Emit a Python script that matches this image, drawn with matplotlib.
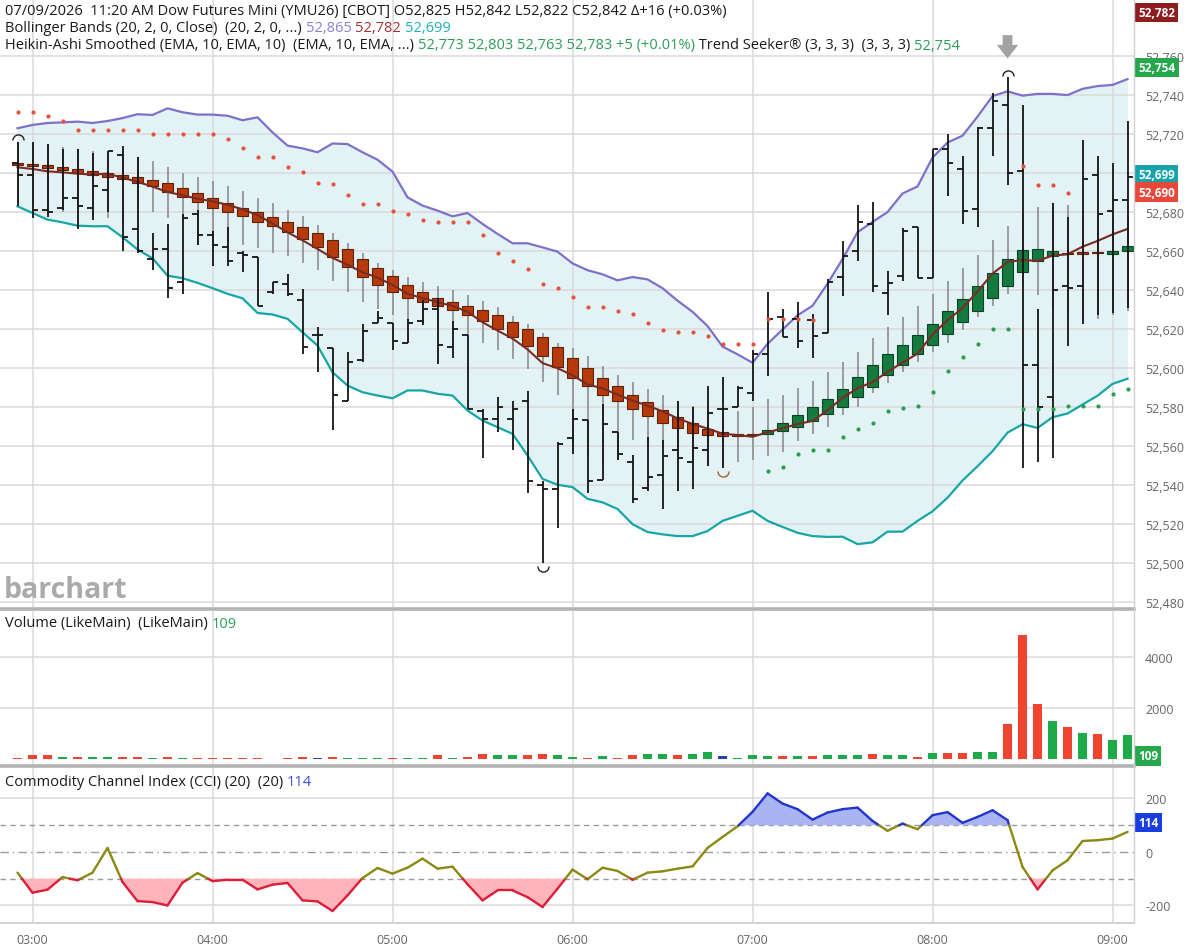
import numpy as np
import pandas as pd
import matplotlib
matplotlib.use('Agg')
import matplotlib.pyplot as plt
from matplotlib.path import Path
from matplotlib.lines import Line2D
from matplotlib.collections import LineCollection

FONT = ['Open Sans', 'DejaVu Sans']
plt.rcParams['font.family'] = FONT

W, H = 1188, 953

# ---------------- data ----------------
bar_times = pd.date_range('2026-07-09 02:55', periods=75, freq='5min')

opens = [52705, 52699, 52681, 52682, 52687, 52682, 52691, 52709, 52671, 52656,
         52661, 52644, 52679, 52668, 52662, 52659, 52657, 52639, 52643, 52635,
         52617, 52610, 52583, 52604, 52623, 52623, 52613, 52624, 52630, 52611,
         52617, 52578, 52574, 52574, 52583, 52540, 52538, 52564, 52573.5, 52542.5,
         52567, 52552, 52538.5, 52545, 52558, 52552, 52558, 52579, 52580, 52587,
         52607, 52626, 52625, 52624.4, 52618, 52646.6, 52660, 52674, 52638.5, 52647,
         52672, 52646, 52712, 52702, 52681.7, 52722.8, 52734.7, 52700.8, 52601.4, 52585,
         52642, 52642, 52699, 52680.6, 52685.8]
highs = [52716, 52716, 52714.5, 52712, 52712, 52710, 52711, 52713.5, 52708, 52669,
         52674, 52679, 52681, 52670, 52672, 52660, 52657, 52644, 52648, 52640.5,
         52621, 52610, 52608, 52622.6, 52629, 52623, 52625, 52635, 52636, 52624,
         52617, 52579, 52585, 52583, 52588, 52542, 52562, 52579, 52573.5, 52581.6,
         52567, 52555.5, 52564.6, 52563, 52583, 52580, 52590.6, 52595.5, 52591, 52609,
         52639, 52630, 52633.6, 52627.6, 52645.8, 52665, 52683.6, 52685, 52649.5, 52671.5,
         52672, 52712.3, 52719.7, 52708.7, 52723.3, 52741, 52749, 52734.7, 52630, 52684.5,
         52677.5, 52716.6, 52708.7, 52705, 52726.5]
lows = [52683, 52677, 52677.5, 52681, 52671, 52676, 52680, 52660, 52659, 52650,
        52636, 52638, 52663, 52652, 52652, 52649, 52632, 52638, 52637, 52607,
        52598, 52568, 52583, 52603, 52623, 52609, 52613, 52622, 52602, 52605,
        52579, 52554, 52567, 52558, 52536, 52500, 52518, 52556, 52536, 52542.5,
        52553, 52531, 52537, 52528, 52537, 52538, 52550, 52548.6, 52580, 52583,
        52596, 52616, 52610, 52605, 52618, 52637, 52654.6, 52639, 52627, 52644.5,
        52646, 52646, 52688, 52674, 52672, 52708.7, 52693.6, 52549, 52552, 52554,
        52611.5, 52622.5, 52627, 52628, 52630.7]
closes = [52699, 52681, 52680, 52687, 52683, 52693, 52711, 52667, 52660, 52661,
          52641, 52677, 52668, 52663, 52655, 52658, 52632, 52644, 52638, 52611,
          52617, 52586, 52603, 52619, 52625.5, 52614, 52623, 52630, 52612, 52620,
          52579, 52574, 52580, 52579, 52542, 52538, 52561, 52574, 52542, 52571.5,
          52556, 52533, 52544, 52555, 52554, 52559, 52577, 52579, 52590, 52607,
          52625, 52616, 52614, 52616.6, 52644, 52657.5, 52675, 52642, 52643.6, 52670,
          52646, 52712, 52705, 52680.6, 52722.8, 52737, 52700, 52601.4, 52580, 52640,
          52641, 52697, 52679, 52685.8, 52698]

# Heikin-Ashi Smoothed (EMA 10) candles
ha_open = [52704.8, 52704.0, 52704.0, 52703.0, 52702.0, 52701.0, 52700.0, 52699.0, 52698.0, 52696.5,
           52695.0, 52692.0, 52689.7, 52687.0, 52684.5, 52682.0, 52679.8, 52677.4, 52674.6, 52672.0,
           52669.0, 52665.5, 52661.0, 52656.0, 52651.0, 52647.0, 52642.7, 52639.0, 52636.0, 52634.0,
           52631.6, 52629.8, 52627.0, 52623.5, 52620.0, 52615.8, 52611.0, 52605.0, 52599.8, 52595.0,
           52590.6, 52586.4, 52582.4, 52578.6, 52575.0, 52572.0, 52568.9, 52567.0, 52566.0, 52566.0,
           52566.0, 52567.7, 52570.0, 52573.0, 52576.7, 52580.0, 52585.0, 52590.4, 52596.3, 52601.4,
           52607.0, 52612.0, 52617.6, 52623.4, 52629.3, 52636.0, 52642.0, 52649.0, 52654.6, 52657.3,
           52658.5, 52658.8, 52658.8, 52658.6, 52659.7]
ha_close = [52704.2, 52703.4, 52702.6, 52701.6, 52700.0, 52699.0, 52698.0, 52697.0, 52695.0, 52693.0,
            52690.0, 52687.5, 52685.0, 52682.0, 52680.0, 52677.7, 52675.0, 52672.6, 52669.5, 52666.0,
            52662.0, 52657.0, 52651.6, 52646.5, 52642.5, 52638.8, 52635.7, 52633.7, 52631.6, 52629.6,
            52627.0, 52623.9, 52620.0, 52616.0, 52611.5, 52606.0, 52600.4, 52595.0, 52590.6, 52586.4,
            52583.0, 52579.0, 52575.5, 52572.0, 52569.4, 52566.8, 52565.6, 52565.0, 52565.0, 52565.5,
            52568.5, 52572.0, 52576.0, 52580.0, 52584.0, 52589.4, 52595.4, 52601.4, 52607.0, 52612.0,
            52617.0, 52622.5, 52629.0, 52635.3, 52641.8, 52648.7, 52656.0, 52660.5, 52661.0, 52659.7,
            52658.2, 52658.6, 52658.7, 52660.0, 52662.5]
ha_high = [52715, 52715, 52714, 52713, 52712, 52711, 52710, 52710, 52708, 52706,
           52703, 52700, 52698, 52696, 52693, 52690.5, 52687, 52684.5, 52681, 52678,
           52673.5, 52669, 52664, 52659, 52654, 52650, 52646.5, 52644, 52642, 52640,
           52637.4, 52634.3, 52631, 52626.4, 52622.5, 52618, 52613, 52610, 52606, 52601,
           52596.5, 52593, 52589, 52586, 52583, 52580.7, 52578, 52577, 52578, 52580,
           52584, 52586, 52590, 52593.6, 52598, 52603, 52608, 52615.6, 52621, 52626,
           52631.7, 52637.7, 52644.5, 52651.2, 52657.7, 52665.4, 52672.7, 52679, 52682.6, 52684.4,
           52683.5, 52681, 52679, 52677, 52679]
ha_low = [52685, 52683, 52681, 52680, 52679, 52678, 52677, 52674, 52683, 52680,
          52677, 52675, 52663, 52663, 52661, 52663, 52661.6, 52659, 52657.5, 52654,
          52650, 52644.5, 52639, 52634, 52630, 52627, 52624, 52623, 52621.7, 52620,
          52616.6, 52612.8, 52609, 52604.6, 52599.5, 52592.6, 52586, 52558, 52555, 52551,
          52553, 52563, 52560, 52559, 52555, 52552, 52550, 52549.5, 52552, 52553,
          52555, 52557, 52562.8, 52566, 52570, 52576, 52580, 52587, 52592.5, 52598,
          52603, 52608, 52613, 52619.6, 52626, 52631.6, 52638, 52642, 52637.6, 52630,
          52628, 52625, 52625, 52627, 52629]

# Bollinger Bands (20, 2)
bb_upper = [52722.8, 52724.5, 52725.5, 52725.8, 52726.2, 52725.5, 52726.5, 52728, 52730, 52729.6,
            52733, 52731, 52729.8, 52729.8, 52729.2, 52726.9, 52728.4, 52720.7, 52713.9, 52712.5,
            52710.5, 52715, 52714.7, 52710.5, 52706.7, 52700.6, 52687.4, 52683.2, 52680.6, 52677.7,
            52679.4, 52673.8, 52668.7, 52663.9, 52663.9, 52661.8, 52659.6, 52653.6, 52650.1, 52648,
            52644.9, 52646.6, 52645.4, 52640.9, 52634.5, 52628.8, 52621.5, 52611, 52607, 52602.7,
            52612.4, 52619.7, 52627, 52631.9, 52643.2, 52655.8, 52669.6, 52674.8, 52679.9, 52689.4,
            52693, 52707.8, 52715.5, 52719, 52728.8, 52739.3, 52741.7, 52739.5, 52740.4, 52740.4,
            52739.8, 52743, 52744.4, 52745, 52748]
bb_lower = [52682.8, 52679.4, 52676, 52674.6, 52672.9, 52672.6, 52672.6, 52667, 52660.7, 52656.2,
            52647.3, 52646, 52643.6, 52640.9, 52638, 52635.7, 52628.2, 52627.4, 52625.2, 52618.3,
            52611.5, 52597.8, 52591, 52587.6, 52585.9, 52584.5, 52588.5, 52588.5, 52586.8, 52585.9,
            52578.2, 52573.1, 52569.7, 52566.3, 52555.2, 52543.2, 52540.2, 52539, 52533, 52531.2,
            52527.8, 52520, 52516, 52514.8, 52513.9, 52513.9, 52516.5, 52521.7, 52524.3, 52526.9,
            52521.7, 52518.6, 52515.6, 52513.9, 52513.5, 52513.6, 52509.8, 52510.7, 52516.2, 52516.2,
            52521.7, 52526.6, 52533.6, 52542.4, 52549.7, 52557.4, 52566.9, 52571.2, 52569.3, 52574.8,
            52576.7, 52581.3, 52585.8, 52591.9, 52594.5]

nan = np.nan
# Trend Seeker dots
ts_red = [52731.3, 52731, 52729.2, 52726.3, 52722, 52722, 52722, 52722, 52722, 52719.9,
          52719.9, 52719.9, 52719.9, 52719.9, 52717.3, 52712.5, 52708.3, 52708.1, 52702.8, 52700.6,
          52694.6, 52694.3, 52688.8, 52684, 52684, 52680.6, 52678.9, 52676, 52675, 52675,
          52675, 52668.2, 52659, 52655, 52650.7, 52643, 52641, 52636.2, 52631, 52631,
          52629.3, 52627.9, 52623.2, 52619.7, 52618.3, 52618.3, 52616.3, 52612.4, 52612.4, 52612.4,
          52625, 52625, 52625, 52624.6, nan, nan, nan, nan, nan, nan,
          nan, nan, nan, nan, nan, nan, nan, 52703.7, 52693.6, 52693.6,
          52689.8, nan, nan, nan, nan]
ts_green = [nan] * 50 + [52547.2, 52549.5, 52555.9, 52557.8, 52558.2, 52564.7, 52569, 52571.6, 52578, 52579.4,
                         52580.3, 52587.7, 52598.3, 52605.5, 52612.4, 52620.1, 52620.1, 52578.9, 52578.9, 52578.9,
                         52580.3, 52580.3, 52580.3, 52586.8, 52589.2]

volume = [39, 157, 157, 78, 78, 65, 65, 92, 65, 52,
          65, 52, 52, 39, 39, 26, 26, 13, 39, 78,
          52, 92, 26, 26, 26, 26, 26, 26, 157, 39,
          78, 209, 144, 144, 144, 196, 144, 78, 50, 105,
          26, 144, 196, 196, 144, 196, 261, 131, 52, 170,
          118, 118, 131, 118, 170, 170, 170, 183, 144, 144,
          92, 235, 222, 235, 275, 275, 1386, 4876, 2170, 1503,
          1255, 1020, 980, 758, 941]
# u = up (green), d = down (red), n = unchanged (blue)
vol_dir = list('ddduduuddu' 'dudddddudd' 'nduuuduudu' 'dduudduudu' 'dduuduunuu'
               'ududuuuduu' 'dudduudddu' 'duduu')

cci = [-77.5, -152.5, -141, -94, -106, -77.5, 15, -112.5, -184, -187.5,
       -200, -115, -79, -109, -104, -104, -140, -122.5, -116, -181,
       -185, -221, -162.5, -97.5, -60, -81, -59, -25, -62.5, -55,
       -121, -181, -144, -144, -169, -206, -137.5, -66, -102, -59,
       -71, -104, -77.5, -72.5, -62.5, -54, 15, 56, 96, 150,
       219, 181, 160, 121, 147.5, 160, 166, 116, 79, 106,
       85, 137.5, 149, 109, 131, 156, 119, -56, -140, -69,
       -31, 41, 44, 50, 75]

price_ticks = list(range(52480, 52761, 20))
vol_ticks = [2000, 4000]
cci_ticks = [-200, 0, 200]

header1 = '07/09/2026  11:20 AM Dow Futures Mini (YMU26) [CBOT] O52,825 H52,842 L52,822 C52,842 \u0394+16 (+0.03%)'
bb_header_vals = ['52,865', '52,782', '52,699']
ha_header_vals = '52,773 52,803 52,763 52,783 +5 (+0.01%)'
ts_header_val = '52,754'
vol_last = '109'
cci_last = '114'
price_badges = [(52782, '52,782', '#8e1d1d'), (52754, '52,754', '#25a84c'),
                (52699, '52,699', '#17a3aa'), (52690, '52,690', '#e8483a')]

# ---------------- figure ----------------
fig = plt.figure(figsize=(W / 100, H / 100), dpi=100)
RX = 1134 / W

def ax_rect(top, bottom):
    return [0, 1 - bottom / H, RX, (bottom - top) / H]

ax = fig.add_axes(ax_rect(0, 608))
axv = fig.add_axes(ax_rect(612, 765), sharex=ax)
axc = fig.add_axes(ax_rect(769, 923), sharex=ax)

x = np.arange(len(bar_times))
hour_mask = np.asarray(bar_times.minute == 0)
hour_x = x[hour_mask]
hour_lbl = bar_times[hour_mask].strftime('%H:%M')

O = np.array(opens); Hh = np.array(highs); L = np.array(lows); C = np.array(closes)
hao = np.array(ha_open); hac = np.array(ha_close)
bu = np.array(bb_upper); bl = np.array(bb_lower); bm = (bu + bl) / 2

GRID = '#dadada'
TICKC = '#666666'
for a in (ax, axv, axc):
    for s in a.spines.values():
        s.set_visible(False)
    a.set_xticks(hour_x)
    a.set_xticklabels(hour_lbl)
    a.grid(axis='x', color=GRID, lw=1.1)
    a.set_axisbelow(True)
    a.yaxis.tick_right()
    a.tick_params(axis='y', length=0, pad=8, labelsize=9, labelcolor=TICKC)
    a.tick_params(axis='x', length=0, pad=8, labelsize=9, labelcolor=TICKC)
ax.tick_params(labelbottom=False)
axv.tick_params(labelbottom=False)
ax.set_xlim(-1.167, 74.43)

# ---- main panel ----
ax.set_ylim(52477.6, 52789.0)
ax.set_yticks(price_ticks)
# the 52,700 label sits fully under the 52,699 badge in the original
ax.set_yticklabels(['' if v == 52700 else f'{v:,}' for v in price_ticks])
ax.grid(axis='y', color=GRID, lw=1.1)

ax.fill_between(x, bl, bu, color='#e2f2f5', lw=0, zorder=0.3)
ax.plot(x, bu, color='#7d71c8', lw=1.6, zorder=2)
ax.plot(x, bl, color='#16a6a6', lw=1.6, zorder=2)

ax.vlines(x, ha_low, ha_high, color='#8d8d8d', lw=1.2, zorder=2.5)
up = hac >= hao
body_bot = np.minimum(hao, hac)
body_h = np.maximum(np.abs(hac - hao), 0.9)
ax.bar(x[~up], body_h[~up], bottom=body_bot[~up], width=0.74, color='#b73a0c',
       edgecolor='#5e2208', lw=0.8, zorder=3)
ax.bar(x[up], body_h[up], bottom=body_bot[up], width=0.74, color='#147a3e',
       edgecolor='#0a4424', lw=0.8, zorder=3)
ax.plot(x, bm, color='#7a2b24', lw=1.5, zorder=3.5)

ax.vlines(x, L, Hh, color='#151515', lw=1.3, zorder=4)
ax.hlines(O, x - 0.34, x, color='#151515', lw=1.3, zorder=4)
ax.hlines(C, x, x + 0.34, color='#151515', lw=1.3, zorder=4)

ax.scatter(x, ts_red, s=9, color='#e5533d', lw=0, zorder=4.5)
ax.scatter(x, ts_green, s=9, color='#2a9e50', lw=0, zorder=4.5)

# swing markers
top_arc = Path.arc(0, 180)
bot_arc = Path.arc(180, 360)
imax = int(np.argmax(Hh))
for i in (0, imax):
    ax.plot([x[i]], [Hh[i] + 0.8], marker=top_arc, ms=8, mfc='none', mec='#222', mew=1.0, ls='none', zorder=5)
ax.plot([x[35]], [L[35] - 1.2], marker=bot_arc, ms=8, mfc='none', mec='#222', mew=1.0, ls='none', zorder=5)
ax.plot([x[47]], [L[47] - 1.2], marker=bot_arc, ms=8, mfc='none', mec='#b05a3a', mew=1.0, ls='none', zorder=5)
ax.annotate('', xy=(x[imax], Hh[imax] + 9.5), xytext=(x[imax], Hh[imax] + 21.5),
            arrowprops=dict(arrowstyle='simple,head_length=0.7,head_width=1.1,tail_width=0.5',
                            color='#a3a3a3', lw=0, shrinkA=0, shrinkB=0, mutation_scale=14),
            annotation_clip=False, zorder=6)

# ---- volume ----
axv.set_ylim(-196, 5804)
axv.set_yticks(vol_ticks)
axv.set_yticklabels([str(v) for v in vol_ticks])
axv.grid(axis='y', color=GRID, lw=1.1)
vcol = {'u': '#1faa4a', 'd': '#ee4430', 'n': '#2446a8'}
axv.bar(x, volume, width=0.66, color=[vcol[d] for d in vol_dir], lw=0, zorder=3)

# ---- CCI ----
axc.set_ylim(-262, 314)
axc.set_yticks(cci_ticks)
axc.set_yticklabels([str(v) for v in cci_ticks])
for lv in (200, -200):
    axc.axhline(lv, color=GRID, lw=1.1, zorder=0.5)
axc.axhline(100, color='#9a9a9a', lw=1.0, ls=(0, (4, 3)), zorder=0.6)
axc.axhline(-100, color='#9a9a9a', lw=1.0, ls=(0, (4, 3)), zorder=0.6)
axc.axhline(0, color='#9a9a9a', lw=1.0, ls=(0, (6, 3, 1, 3)), zorder=0.6)

def split_at_levels(xv, yv, levels):
    xs, ys = [xv[0]], [yv[0]]
    for i in range(len(xv) - 1):
        x0, x1, y0, y1 = xv[i], xv[i + 1], yv[i], yv[i + 1]
        cr = []
        for lv in levels:
            if (y0 - lv) * (y1 - lv) < 0:
                cr.append(((lv - y0) / (y1 - y0), lv))
        for t, lv in sorted(cr):
            xs.append(x0 + t * (x1 - x0)); ys.append(lv)
        xs.append(x1); ys.append(y1)
    return np.array(xs, float), np.array(ys, float)

cx, cy = split_at_levels(x.astype(float), np.array(cci, float), [100, -100])
axc.fill_between(cx, cy, 100, where=cy >= 100, interpolate=True, color='#aab4f3', lw=0, zorder=1)
axc.fill_between(cx, cy, -100, where=cy <= -100, interpolate=True, color='#ffb3bb', lw=0, zorder=1)
segs, cols = [], []
for i in range(len(cx) - 1):
    m = (cy[i] + cy[i + 1]) / 2
    segs.append([(cx[i], cy[i]), (cx[i + 1], cy[i + 1])])
    cols.append('#2236c8' if m > 100 else ('#dd1d3a' if m < -100 else '#8a8a12'))
axc.add_collection(LineCollection(segs, colors=cols, lw=1.7, zorder=3, capstyle='round'))

# ---- separators ----
fig.add_artist(Line2D([0, RX], [1 - 609.5 / H] * 2, color='#b3b3b3', lw=2.6))
fig.add_artist(Line2D([0, RX], [1 - 766.5 / H] * 2, color='#b3b3b3', lw=2.6))
fig.add_artist(Line2D([0, RX], [1 - 923.5 / H] * 2, color='#cfcfcf', lw=1.3))
fig.add_artist(Line2D([RX, RX], [1 - 923.5 / H, 1], color='#d0d0d0', lw=1.0))

# ---- badges on right axis ----
def badge(a, val, txt, col):
    a.annotate(txt, xy=(1.0, val), xycoords=('axes fraction', 'data'), xytext=(3, 0),
               textcoords='offset points', ha='left', va='center', fontsize=8.5,
               fontweight='bold', color='white', annotation_clip=False, zorder=10,
               bbox=dict(boxstyle='square,pad=0.28', fc=col, ec='none'))

for v, t, c in price_badges:
    badge(ax, v, t, c)
badge(axv, 118, vol_last, '#25a84c')
badge(axc, 110, cci_last, '#1a3de0')

# ---- header texts ----
renderer = fig.canvas.get_renderer()

def rich(x_px, y_px, parts, size=10.5):
    xp = x_px
    for s, c in parts:
        t = fig.text(xp / W, 1 - y_px / H, s, color=c, fontsize=size, ha='left', va='center', zorder=12)
        xp += t.get_window_extent(renderer).width

BLK = '#1a1a1a'
rich(5, 11, [(header1, BLK)])
rich(5, 29, [('Bollinger Bands (20, 2, 0, Close)  (20, 2, 0, ...) ', BLK),
             (bb_header_vals[0] + ' ', '#8d80d2'), (bb_header_vals[1] + ' ', '#a53131'),
             (bb_header_vals[2], '#1fb2b6')])
rich(5, 46, [('Heikin-Ashi Smoothed (EMA, 10, EMA, 10)  (EMA, 10, EMA, ...) ', BLK),
             (ha_header_vals, '#2e9d58'), (' Trend Seeker\u00ae (3, 3, 3)  (3, 3, 3) ', BLK),
             (ts_header_val, '#2e9d58')])
rich(5, 624, [('Volume (LikeMain)  (LikeMain) ', BLK), (vol_last, '#2e9d58')])
rich(5, 782, [('Commodity Channel Index (CCI) (20)  (20) ', BLK), (cci_last, '#3f50d0')])

fig.text(4 / W, 1 - 590 / H, 'barchart', fontsize=20.5, fontweight='bold', color='#aaaaaa',
         ha='left', va='center', zorder=12)

fig.savefig('out.png', dpi=100)
